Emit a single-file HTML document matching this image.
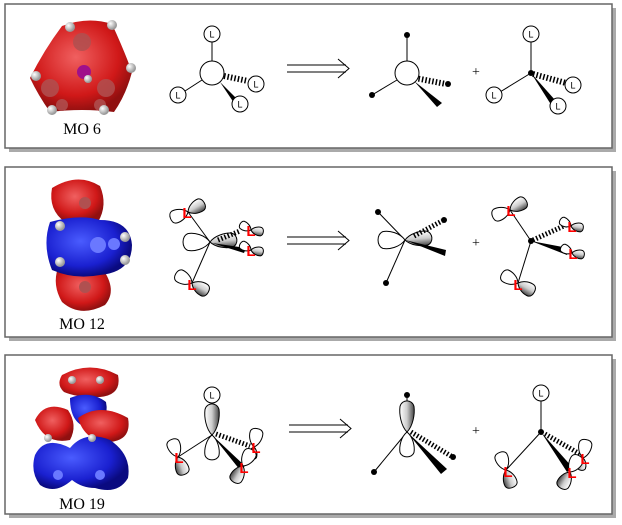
<!DOCTYPE html>
<html><head><meta charset="utf-8"><style>
html,body{margin:0;padding:0;background:#fff;}
svg{display:block;font-family:"Liberation Serif",serif;}
</style></head><body>
<svg width="622" height="525" viewBox="0 0 622 525" xmlns="http://www.w3.org/2000/svg">
<defs>
<linearGradient id="sh" x1="0" y1="0" x2="0" y2="1">
<stop offset="0" stop-color="#fff"/><stop offset="0.5" stop-color="#ccc"/><stop offset="1" stop-color="#444"/></linearGradient>
<radialGradient id="red" cx="0.45" cy="0.4" r="0.6"><stop offset="0" stop-color="#f06060"/><stop offset="0.7" stop-color="#d01818"/><stop offset="1" stop-color="#901010"/></radialGradient>
<radialGradient id="blue" cx="0.4" cy="0.4" r="0.6"><stop offset="0" stop-color="#4a5cff"/><stop offset="0.7" stop-color="#1a20d0"/><stop offset="1" stop-color="#0a0a80"/></radialGradient>
<radialGradient id="ball" cx="0.35" cy="0.35" r="0.6"><stop offset="0" stop-color="#fff"/><stop offset="1" stop-color="#999"/></radialGradient>
<path id="lo" d="M0,0 C4,-6 12,-8 17,-7 C22,-5 22,5 17,7 C12,8 4,6 0,0Z" fill="#fff" stroke="#000" stroke-width="1" vector-effect="non-scaling-stroke"/>
<path id="ls" d="M0,0 C4,-6 12,-8 17,-7 C22,-5 22,5 17,7 C12,8 4,6 0,0Z" fill="url(#sh)" stroke="#000" stroke-width="1" vector-effect="non-scaling-stroke"/>
<g id="cl"><circle r="8" fill="#fff" stroke="#000" stroke-width="1"/><text y="3.5" text-anchor="middle" font-family="Liberation Sans,sans-serif" font-size="9">L</text></g>
</defs>

<!-- panels -->
<rect x="9" y="8" width="607" height="144" fill="#aaa"/>
<rect x="5" y="4" width="607" height="144" fill="#fff" stroke="#666" stroke-width="1.5"/>
<rect x="9" y="171" width="607" height="170" fill="#aaa"/>
<rect x="5" y="167" width="607" height="170" fill="#fff" stroke="#666" stroke-width="1.5"/>
<rect x="9" y="359" width="607" height="159" fill="#aaa"/>
<rect x="5" y="355" width="607" height="159" fill="#fff" stroke="#666" stroke-width="1.5"/>

<!-- MO 6 blob -->
<path d="M62,26 Q88,16 112,24 Q124,50 132,72 Q126,95 114,112 Q82,108 50,112 Q38,95 30,78 Q44,50 62,26Z" fill="url(#red)"/>
<g fill="#b05050" opacity="0.85"><circle cx="82" cy="42" r="9"/><circle cx="50" cy="88" r="9"/><circle cx="106" cy="88" r="9"/><circle cx="62" cy="105" r="6"/><circle cx="100" cy="105" r="6"/></g>
<circle cx="84" cy="72" r="7" fill="#a0108a"/>
<g fill="url(#ball)">
<circle cx="70" cy="27" r="5"/><circle cx="112" cy="25" r="5"/><circle cx="36" cy="76" r="5"/><circle cx="131" cy="68" r="5"/><circle cx="52" cy="110" r="5"/><circle cx="104" cy="110" r="5"/><circle cx="88" cy="79" r="4"/></g>
<text x="82" y="134" font-size="16" text-anchor="middle">MO 6</text>

<!-- panel 1 -->
<g stroke="#000" stroke-width="1" fill="none">
<line x1="212" y1="42" x2="212" y2="61"/><line x1="202" y1="80" x2="185" y2="91"/>
<line x1="407" y1="35" x2="407" y2="61"/><line x1="397" y1="80" x2="372" y2="95"/>
<line x1="531" y1="42" x2="531" y2="73"/><line x1="531" y1="73" x2="500" y2="92"/>
</g>
<path d="M224,76 L248,81" stroke="#000" stroke-dasharray="1.5,2" stroke-width="6"/>
<path d="M415,78 L446,84" stroke="#000" stroke-dasharray="1.5,2" stroke-width="6"/>
<path d="M533,74 L566,83" stroke="#000" stroke-dasharray="1.5,2" stroke-width="6"/>
<path d="M220,82 L238,100 L234,103Z" fill="#000"/>
<path d="M414,81 L442,103 L437,107Z" fill="#000"/>
<path d="M531,73 L555,100 L550,103Z" fill="#000"/>
<circle cx="212" cy="73" r="12" fill="#fff" stroke="#000"/>
<circle cx="407" cy="73" r="12" fill="#fff" stroke="#000"/>
<use href="#cl" x="212" y="34"/><use href="#cl" x="178" y="95"/><use href="#cl" x="256" y="84"/><use href="#cl" x="240" y="104"/>
<use href="#cl" x="531" y="34"/><use href="#cl" x="494" y="95"/><use href="#cl" x="573" y="85"/><use href="#cl" x="558" y="106"/>
<g fill="#000"><circle cx="407" cy="35" r="3"/><circle cx="372" cy="95" r="3"/><circle cx="448" cy="84" r="3"/><circle cx="531" cy="73" r="3"/></g>
<text x="476" y="76" font-size="14" text-anchor="middle">+</text>

<!-- arrows -->
<g stroke="#000" stroke-width="1" fill="none">
<path d="M287,65 H346 M287,72 H346 M338,59 L349,68.5 L338,78"/>
<path d="M287,237 H346 M287,244 H346 M338,231 L349,240.5 L338,250"/>
<path d="M289,425 H348 M289,432 H348 M340,419 L351,428.5 L340,438"/>
</g>

<!-- MO 12 blob -->
<path d="M52,188 Q78,172 100,186 Q108,205 98,222 L65,222 Q48,210 52,188Z" fill="url(#red)"/>
<path d="M58,268 L102,268 Q118,290 105,305 Q80,318 62,302 Q52,285 58,268Z" fill="url(#red)"/>
<path d="M50,222 Q80,214 100,220 Q130,220 132,245 Q132,272 100,275 Q75,280 52,270 Q42,245 50,222Z" fill="url(#blue)"/>
<g fill="url(#ball)"><circle cx="60" cy="226" r="5"/><circle cx="125" cy="237" r="5"/><circle cx="60" cy="262" r="5"/><circle cx="125" cy="260" r="5"/></g>
<g fill="#6a78ff"><circle cx="98" cy="245" r="8"/><circle cx="114" cy="244" r="6"/></g>
<g fill="#b05050"><circle cx="85" cy="203" r="6"/><circle cx="85" cy="287" r="6"/></g>
<text x="82" y="329" font-size="16" text-anchor="middle">MO 12</text>

<!-- panel 2 -->
<g stroke="#000" stroke-width="1" fill="none">
<line x1="210" y1="242" x2="188" y2="212"/><line x1="210" y1="242" x2="192" y2="283"/>
<line x1="405" y1="240" x2="378" y2="212"/><line x1="405" y1="240" x2="386" y2="283"/>
<line x1="531" y1="241" x2="510" y2="210"/><line x1="531" y1="241" x2="518" y2="283"/>
</g>
<use href="#lo" transform="translate(210,242) rotate(180) scale(1.3,1.2)"/>
<use href="#ls" transform="translate(210,242) rotate(-5) scale(1.3,1)"/>
<use href="#lo" transform="translate(405,240) rotate(180) scale(1.3,1.2)"/>
<use href="#ls" transform="translate(405,240) rotate(-5) scale(1.3,1)"/>
<path d="M218,240 L240,231" stroke="#000" stroke-width="5" stroke-dasharray="1.5,2"/>
<path d="M212,243 L244,253 L246,248Z" fill="#000"/>
<path d="M414,236 L442,221" stroke="#000" stroke-width="5" stroke-dasharray="1.5,2"/>
<path d="M405,240 L445,256 L446,250Z" fill="#000"/>
<path d="M533,240 L566,225" stroke="#000" stroke-width="5" stroke-dasharray="1.5,2"/>
<path d="M531,241 L567,255 L568,248Z" fill="#000"/>
<g fill="#000"><circle cx="378" cy="212" r="3"/><circle cx="386" cy="283" r="3"/><circle cx="444" cy="220" r="3"/><circle cx="531" cy="241" r="3"/></g>
<use href="#lo" transform="translate(188,212) rotate(160) scale(0.9)"/><use href="#ls" transform="translate(188,212) rotate(-30) scale(0.9)"/>
<use href="#lo" transform="translate(192,283) rotate(-150) scale(0.9)"/><use href="#ls" transform="translate(192,283) rotate(30) scale(0.9)"/>
<use href="#lo" transform="translate(251,230) rotate(-150) scale(0.6)"/><use href="#ls" transform="translate(251,230) rotate(10) scale(0.6)"/>
<use href="#lo" transform="translate(251,250) rotate(-150) scale(0.6)"/><use href="#ls" transform="translate(251,250) rotate(10) scale(0.6)"/>
<use href="#lo" transform="translate(510,210) rotate(160) scale(0.9)"/><use href="#ls" transform="translate(510,210) rotate(-30) scale(0.9)"/>
<use href="#lo" transform="translate(518,283) rotate(-150) scale(0.9)"/><use href="#ls" transform="translate(518,283) rotate(30) scale(0.9)"/>
<use href="#lo" transform="translate(571,226) rotate(-150) scale(0.6)"/><use href="#ls" transform="translate(571,226) rotate(10) scale(0.6)"/>
<use href="#lo" transform="translate(572,253) rotate(-150) scale(0.6)"/><use href="#ls" transform="translate(572,253) rotate(10) scale(0.6)"/>
<g fill="#f00" font-family="Liberation Sans,sans-serif" font-weight="bold" font-size="15" text-anchor="middle">
<text x="187" y="218">L</text><text x="192" y="290">L</text><text x="251" y="236">L</text><text x="251" y="256">L</text>
<text x="511" y="216">L</text><text x="518" y="290">L</text><text x="572" y="232">L</text><text x="573" y="259">L</text>
</g>
<text x="476" y="247" font-size="14" text-anchor="middle">+</text>

<!-- MO 19 blob -->
<path d="M62,375 Q90,360 118,375 Q122,395 100,397 Q78,398 64,392 Q56,385 62,375Z" fill="url(#red)"/>
<path d="M70,398 Q90,390 106,402 Q110,422 90,428 Q70,425 70,398Z" fill="url(#blue)"/>
<path d="M35,420 Q45,400 68,410 Q78,425 70,440 Q45,445 35,420Z" fill="url(#red)"/>
<path d="M78,418 Q100,402 128,418 Q132,440 110,442 Q85,442 78,418Z" fill="url(#red)"/>
<path d="M35,455 Q45,435 70,448 Q85,430 110,440 Q132,455 128,478 Q118,495 95,488 Q82,488 72,480 Q55,495 40,485 Q30,472 35,455Z" fill="url(#blue)"/>
<g fill="url(#ball)"><circle cx="72" cy="380" r="4"/><circle cx="100" cy="380" r="4"/><circle cx="48" cy="438" r="4"/><circle cx="92" cy="438" r="4"/></g>
<g fill="#6a78ff"><circle cx="58" cy="475" r="5"/><circle cx="100" cy="475" r="5"/></g>
<text x="82" y="509" font-size="16" text-anchor="middle">MO 19</text>

<!-- panel 3 -->
<g stroke="#000" stroke-width="1" fill="none">
<line x1="212" y1="403" x2="212" y2="435"/><line x1="212" y1="435" x2="178" y2="457"/>
<line x1="407" y1="396" x2="407" y2="432"/><line x1="407" y1="432" x2="374" y2="472"/>
<line x1="541" y1="401" x2="541" y2="432"/><line x1="541" y1="432" x2="506" y2="470"/>
</g>
<use href="#lo" transform="translate(212,435) rotate(90) scale(1.2,1)"/>
<use href="#ls" transform="translate(212,435) rotate(-90) scale(1.5,1)"/>
<use href="#lo" transform="translate(407,432) rotate(90) scale(1.2,1)"/>
<use href="#ls" transform="translate(407,432) rotate(-90) scale(1.5,1)"/>
<path d="M216,434 L250,446" stroke="#000" stroke-width="5" stroke-dasharray="1.5,2"/>
<path d="M212,435 L240,470 L245,466Z" fill="#000"/>
<path d="M411,432 L451,456" stroke="#000" stroke-width="5" stroke-dasharray="1.5,2"/>
<path d="M407,432 L441,474 L447,469Z" fill="#000"/>
<path d="M545,434 L580,454" stroke="#000" stroke-width="5" stroke-dasharray="1.5,2"/>
<path d="M541,432 L567,472 L573,468Z" fill="#000"/>
<use href="#cl" x="212" y="395"/><use href="#cl" x="541" y="393"/>
<g fill="#000"><circle cx="407" cy="395" r="3"/><circle cx="374" cy="472" r="3"/><circle cx="453" cy="457" r="3"/><circle cx="541" cy="432" r="3"/></g>
<use href="#lo" transform="translate(178,457) rotate(-110) scale(0.9)"/><use href="#ls" transform="translate(178,457) rotate(70) scale(0.9)"/>
<use href="#lo" transform="translate(254,447) rotate(-80) scale(0.9)"/><use href="#ls" transform="translate(254,447) rotate(100) scale(0.6)"/>
<use href="#lo" transform="translate(243,466) rotate(-60) scale(0.9)"/><use href="#ls" transform="translate(243,466) rotate(120) scale(0.9)"/>
<use href="#lo" transform="translate(506,470) rotate(-110) scale(0.9)"/><use href="#ls" transform="translate(506,470) rotate(70) scale(0.9)"/>
<use href="#lo" transform="translate(583,458) rotate(-80) scale(0.9)"/><use href="#ls" transform="translate(583,458) rotate(100) scale(0.6)"/>
<use href="#lo" transform="translate(570,472) rotate(-60) scale(0.9)"/><use href="#ls" transform="translate(570,472) rotate(120) scale(0.9)"/>
<g fill="#f00" font-family="Liberation Sans,sans-serif" font-weight="bold" font-size="15" text-anchor="middle">
<text x="179" y="463">L</text><text x="256" y="453">L</text><text x="244" y="473">L</text>
<text x="508" y="477">L</text><text x="585" y="464">L</text><text x="572" y="478">L</text>
</g>
<text x="476" y="435" font-size="14" text-anchor="middle">+</text>
</svg>
</body></html>
